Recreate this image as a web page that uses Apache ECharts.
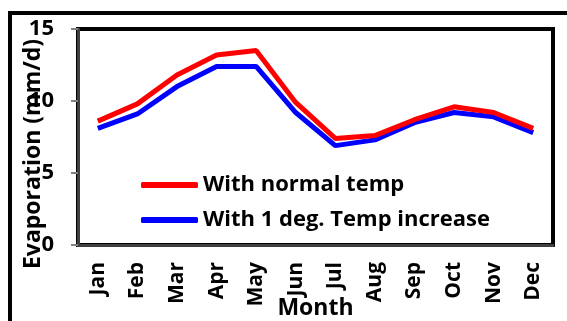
<!DOCTYPE html>
<html>
<head>
<meta charset="utf-8">
<script src="https://cdn.jsdelivr.net/npm/echarts@6/dist/echarts.min.js"></script>
<style>
  html, body { margin: 0; padding: 0; background: #fff; }
  #chart { width: 567px; height: 321px; }
</style>
</head>
<body>
<div id="chart"></div>
<script>
const months = ['Jan', 'Feb', 'Mar', 'Apr', 'May', 'Jun', 'Jul', 'Aug', 'Sep', 'Oct', 'Nov', 'Dec']
const normalTemp = [8.6, 9.8, 11.8, 13.2, 13.5, 9.9, 7.4, 7.6, 8.7, 9.6, 9.2, 8.1]
const plusOneDeg = [8.1, 9.1, 11.0, 12.4, 12.4, 9.2, 6.9, 7.3, 8.5, 9.2, 8.9, 7.8]
const seriesNames = ['With normal temp', 'With 1 deg. Temp increase']

const font = 'Open Sans'
const chart = echarts.init(document.getElementById('chart'))

chart.setOption({
  animation: false,
  textStyle: { fontFamily: font, fontWeight: 'bold', color: '#000' },
  graphic: [{
    type: 'rect',
    shape: { x: 10, y: 13, width: 620, height: 400 },
    style: { fill: null, stroke: '#000', lineWidth: 4 },
    z: -1
  }],
  grid: {
    left: 78,
    right: 14,
    top: 29,
    bottom: 76,
    containLabel: false,
    outerBoundsMode: 'none',
    show: true,
    borderColor: '#000',
    borderWidth: 4
  },
  legend: {
    orient: 'vertical',
    left: 136,
    top: 169,
    itemWidth: 57,
    itemHeight: 6,
    itemGap: 13,
    icon: 'roundRect',
    textStyle: { fontFamily: font, fontWeight: 'bold', fontSize: 22, color: '#000' },
    data: seriesNames
  },
  xAxis: {
    type: 'category',
    data: months,
    boundaryGap: true,
    name: 'Month',
    nameLocation: 'middle',
    nameGap: 52,
    nameMoveOverlap: false,
    nameTextStyle: { fontFamily: font, fontWeight: 'bold', fontSize: 23, color: '#000' },
    axisLine: { lineStyle: { color: '#404040', width: 3 } },
    axisTick: { alignWithLabel: false, length: 7, lineStyle: { color: '#808080', width: 2 } },
    axisLabel: { rotate: 90, margin: 17, fontSize: 21, fontWeight: 'bold', color: '#000', fontFamily: font, interval: 0 },
    splitLine: { show: false }
  },
  yAxis: {
    type: 'value',
    min: 0,
    max: 15,
    interval: 5,
    name: 'Evaporation (mm/d)',
    nameLocation: 'middle',
    nameGap: 33,
    nameMoveOverlap: false,
    nameTextStyle: { fontFamily: font, fontWeight: 'bold', fontSize: 23, color: '#000', padding: [0, 34, 0, 0] },
    axisLine: { show: true, lineStyle: { color: '#404040', width: 3 } },
    axisTick: { show: true, length: 7, lineStyle: { color: '#808080', width: 2 } },
    axisLabel: { margin: 24, fontSize: 22, fontWeight: 'bold', color: '#000', fontFamily: font },
    splitLine: { show: false }
  },
  series: [
    {
      name: seriesNames[0],
      type: 'line',
      data: normalTemp,
      symbol: 'none',
      itemStyle: { color: '#ff0000' },
      lineStyle: { color: '#ff0000', width: 5 },
      z: 3
    },
    {
      name: seriesNames[1],
      type: 'line',
      data: plusOneDeg,
      symbol: 'none',
      itemStyle: { color: '#0000ff' },
      lineStyle: { color: '#0000ff', width: 5 },
      z: 2
    }
  ]
})
</script>
</body>
</html>
